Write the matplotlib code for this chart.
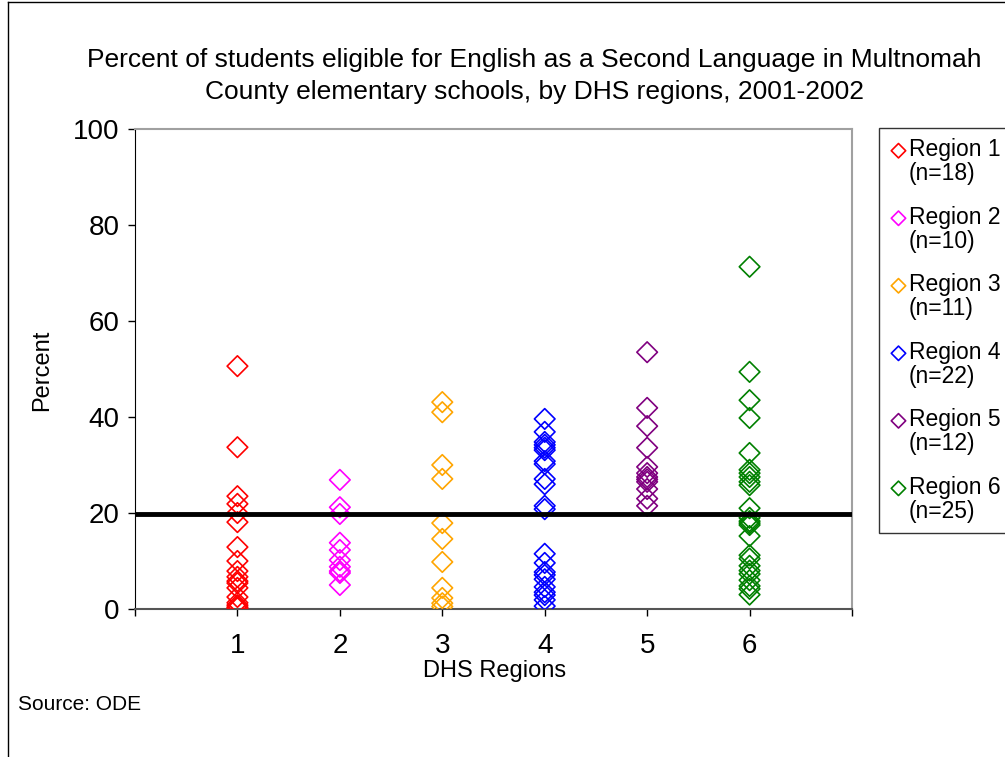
import matplotlib
matplotlib.use("Agg")
import matplotlib.pyplot as plt
from matplotlib.lines import Line2D

plt.rcParams['font.family'] = ['Liberation Sans', 'DejaVu Sans']

# Percent ESL-eligible students per school, grouped by DHS region
region1 = [50.6, 33.7, 23.5, 21.9, 20.0, 18.1, 12.9, 10.0, 7.9, 6.7, 5.8,
           5.4, 4.4, 2.5, 1.3, 0.8, 0.4, 0.2]
region2 = [26.9, 21.2, 19.8, 13.8, 12.3, 10.2, 8.8, 7.9, 7.5, 5.0]
region3 = [43.1, 41.0, 30.0, 27.1, 17.9, 14.6, 9.8, 4.4, 2.3, 1.2, 0.5]
region4 = [39.6, 36.9, 34.8, 34.2, 33.6, 33.1, 30.8, 30.2, 27.1, 26.0, 21.5,
           20.8, 11.5, 9.6, 7.7, 7.1, 6.2, 4.6, 3.5, 2.9, 1.9, 0.6]
region5 = [53.5, 41.9, 38.1, 33.6, 29.6, 28.3, 27.5, 27.0, 26.5, 25.0, 23.0, 21.5]
region6 = [71.3, 49.4, 43.5, 39.8, 32.5, 29.0, 28.3, 27.5, 26.5, 25.8, 21.0,
           19.0, 18.3, 17.9, 17.5, 15.2, 11.2, 10.5, 9.0, 8.0, 7.3, 6.0, 4.8,
           4.2, 3.0]

regions = [region1, region2, region3, region4, region5, region6]
region_positions = [1, 2, 3, 4, 5, 6]
region_names = ["Region 1", "Region 2", "Region 3", "Region 4", "Region 5", "Region 6"]
colors = ["#FF0000", "#FF00FF", "#FFA500", "#0000FF", "#800080", "#008000"]
county_average = 19.8

y_ticks = [0, 20, 40, 60, 80, 100]
x_tick_labels = ["", "1", "2", "3", "4", "5", "6", ""]

W, H = 1005, 757
fig = plt.figure(figsize=(W / 100, H / 100), dpi=100)
ax = fig.add_axes([135 / W, 1 - 609 / H, (852 - 135) / W, (609 - 129) / H])

for pos, vals, name, col in zip(region_positions, regions, region_names, colors):
    ax.scatter([pos] * len(vals), vals, marker="D", s=110, facecolors="none",
               edgecolors=col, linewidths=1.2, zorder=3,
               label=f"{name}\n(n={len(vals)})")

ax.axhline(county_average, color="black", linewidth=3.5, zorder=4)

ax.set_xlim(0, 7)
ax.set_ylim(0, 100)
ax.set_xticks(range(0, 8))
ax.set_xticklabels(x_tick_labels, fontsize=20)
ax.set_yticks(y_ticks)
ax.set_yticklabels([str(v) for v in y_ticks], fontsize=20)
ax.tick_params(axis="both", direction="out", length=5, width=1, colors="black")
ax.tick_params(axis="x", pad=12)
ax.tick_params(axis="y", pad=6)

ax.spines["left"].set_color("black")
ax.spines["bottom"].set_color("#555555")
ax.spines["bottom"].set_linewidth(1.5)
ax.spines["top"].set_color("#A0A0A0")
ax.spines["right"].set_color("#A0A0A0")
ax.spines["top"].set_linewidth(1.5)
ax.spines["right"].set_linewidth(1.5)

fig.text(42 / W, 1 - 370 / H, "Percent", rotation=90, fontsize=17,
         ha="center", va="center")
fig.text(495 / W, 1 - 671 / H, "DHS Regions", fontsize=17,
         ha="center", va="center")

fig.text(534 / W, 1 - 76 / H,
         "Percent of students eligible for English as a Second Language in Multnomah\n"
         "County elementary schools, by DHS regions, 2001-2002",
         ha="center", va="center", fontsize=19, linespacing=1.45)

fig.text(18 / W, 1 - 705 / H, "Source: ODE", fontsize=15, va="center")

leg = ax.legend(loc="upper left", bbox_to_anchor=(879 / W, 1 - 128 / H),
                bbox_transform=fig.transFigure, frameon=True, fancybox=False,
                fontsize=16.5, handletextpad=0.05, handlelength=0.8,
                labelspacing=0.9, borderpad=0.45, markerscale=0.7,
                scatteryoffsets=[1.25], borderaxespad=0)
for t in leg.get_texts():
    t.set_linespacing(1.05)
leg.get_frame().set_edgecolor("black")
leg.get_frame().set_linewidth(1.0)

# outer border of the chart area
fig.add_artist(Line2D([8 / W, 8 / W], [0, 1 - 2 / H], color="black",
                      linewidth=1.0, transform=fig.transFigure))
fig.add_artist(Line2D([8 / W, 1], [1 - 2 / H, 1 - 2 / H], color="black",
                      linewidth=1.0, transform=fig.transFigure))

fig.savefig("out.png", dpi=100)
